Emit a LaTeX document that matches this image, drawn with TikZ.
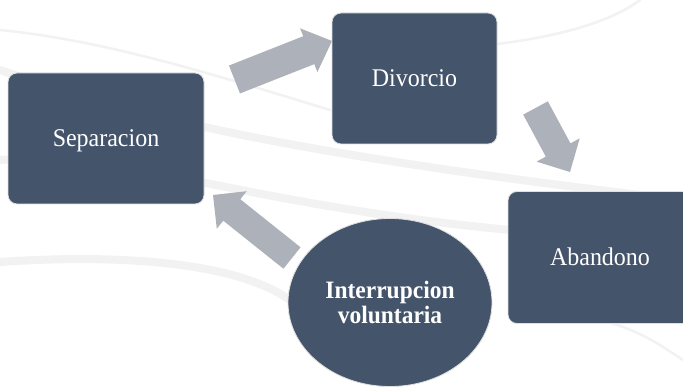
\documentclass[tikz,border=0pt]{standalone}
\usepackage{fontspec}
\setmainfont[FakeStretch=0.94]{Liberation Serif}
\usetikzlibrary{calc,shapes.geometric}
\definecolor{boxfill}{HTML}{44546A}
\definecolor{arrgrey}{HTML}{ADB1B9}
\tikzset{
  stepbox/.style={draw=black!12, line width=0.8pt, fill=boxfill, rounded corners=9pt,
    text=white, font=\fontsize{25.5}{27}\selectfont, inner sep=0pt,
    text height=17pt, text depth=0pt},
  ovalbox/.style={ellipse, draw=black!12, line width=0.8pt, fill=boxfill, text=white,
    font=\fontsize{25}{24.5}\selectfont\bfseries, align=center, inner sep=0pt,
    minimum width=204pt, minimum height=168pt},
  swoosh/.style={draw=black!5, line width=8pt, line cap=round},
  thinswoosh/.style={draw=black!5, line width=2.5pt, line cap=round}
}
\newcommand\blockarrow[5]{%
  \coordinate (ba-c) at ($(#2)!#5!(#1)$);
  \fill[arrgrey] ($(#1)!#3!90:(#2)$) -- ($(ba-c)!#3!-90:(#1)$) -- ($(ba-c)!#4!-90:(#1)$)
    -- (#2) -- ($(ba-c)!#4!90:(#1)$) -- ($(ba-c)!#3!90:(#1)$) -- ($(#1)!#3!-90:(#2)$) -- cycle;}
\begin{document}
\begin{tikzpicture}[x=1pt,y=1pt]
\useasboundingbox[fill=white] (0,0) rectangle (683,388);
% faint background swooshes (pixel coordinates, y downwards)
\begin{scope}[yshift=388pt, yscale=-1]
  \draw[swoosh] (0,70) .. controls (120,110) and (250,150) .. (683,200);
  \draw[swoosh] (0,160) .. controls (150,150) and (300,230) .. (683,240);
  \draw[swoosh] (0,262) .. controls (100,255) and (230,258) .. (290,300);
  \draw[thinswoosh] (430,50) .. controls (520,45) and (600,30) .. (640,0);
  \draw[thinswoosh] (600,320) .. controls (640,330) and (660,345) .. (683,360);
  \draw[thinswoosh] (0,30) .. controls (100,40) and (200,70) .. (330,110);
\end{scope}
% arrow end points
\coordinate (a1s) at (234.5,308.5);
\coordinate (a1e) at (332,347);
\coordinate (a2s) at (535.5,280);
\coordinate (a2e) at (570,216);
\coordinate (a3s) at (292,130);
\coordinate (a3e) at (213,193);
\blockarrow{a1s}{a1e}{15pt}{23.5pt}{25pt}
\blockarrow{a2s}{a2e}{14pt}{24.5pt}{25pt}
\blockarrow{a3s}{a3e}{13.7pt}{24pt}{24pt}
% nodes
\node[stepbox, minimum width=196pt, minimum height=131pt] (sep) at (106,249.5) {Separacion};
\node[stepbox, minimum width=165pt, minimum height=131pt] (div) at (414.5,309.5) {Divorcio};
\node[stepbox, minimum width=184pt, minimum height=132pt] (aba) at (600,130.5) {Abandono};
\node[ovalbox] (int) at (390,85.5) {Interrupcion\\voluntaria};
\end{tikzpicture}
\end{document}
